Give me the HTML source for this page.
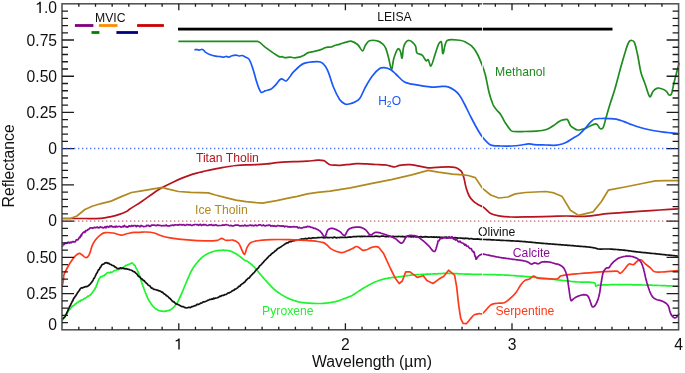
<!DOCTYPE html>
<html><head><meta charset="utf-8"><style>
html,body{margin:0;padding:0;background:#fff;}
body{width:685px;height:373px;overflow:hidden;font-family:"Liberation Sans",sans-serif;}
svg{display:block;will-change:transform;}
</style></head><body>
<svg width="685" height="373" viewBox="0 0 685 373">

<path d="M62.5,218.5C68.5,218.5 74.4,218.5 80.4,218.5C87.2,218.5 94.1,218.7 100.9,218.3C104.3,218.1 107.7,217.3 111.1,216.6C113.9,216.0 116.6,215.3 119.3,214.4C122.1,213.4 124.8,212.2 127.4,210.9C128.2,210.5 128.8,209.8 129.5,209.3C133.5,206.6 137.7,204.2 141.7,201.5C145.2,199.2 148.5,196.6 152.0,194.2C155.4,191.9 158.7,189.6 162.2,187.6C165.5,185.7 169.0,184.0 172.4,182.4C175.8,180.8 179.2,179.3 182.6,177.9C186.0,176.5 189.4,175.2 192.8,174.1C195.2,173.3 197.6,172.9 200.0,172.3C201.7,171.9 203.5,171.4 205.2,171.0C208.6,170.2 212.0,169.5 215.4,168.8C218.8,168.1 222.3,167.6 225.7,167.0C229.1,166.5 232.5,165.9 235.9,165.5C239.3,165.2 242.7,165.0 246.1,164.9C249.5,164.8 252.9,164.9 256.3,164.7C259.7,164.5 263.1,164.2 266.5,163.9C269.9,163.6 273.3,163.0 276.7,162.7C280.1,162.4 283.6,162.1 287.0,161.9C290.4,161.7 293.8,161.7 297.2,161.6C300.6,161.5 304.0,161.4 307.4,161.2C310.8,161.0 314.2,160.3 317.6,160.2C319.7,160.1 321.9,160.1 323.8,160.6C324.9,160.9 325.8,162.0 326.8,162.7C327.8,163.4 328.8,164.4 329.9,164.7C331.5,165.2 333.3,165.1 335.0,165.2C336.7,165.3 338.5,165.4 340.2,165.3C342.2,165.2 344.3,164.9 346.3,164.7C349.7,164.4 353.2,163.8 356.6,163.7C360.0,163.6 363.4,163.8 366.8,163.9C370.2,164.0 373.6,164.3 377.0,164.5C379.7,164.6 382.5,164.6 385.2,164.9C387.3,165.2 389.3,165.8 391.3,166.3C392.3,166.5 393.4,167.1 394.4,167.0C396.1,166.8 397.7,165.6 399.5,165.3C402.8,164.8 406.3,164.6 409.7,164.7C412.4,164.8 415.2,165.4 417.9,165.9C421.3,166.5 424.7,167.5 428.1,167.8C430.8,168.0 433.6,167.5 436.3,167.4C440.4,167.2 444.4,166.8 448.5,166.8C450.6,166.8 452.7,166.9 454.7,167.4C456.1,167.7 457.6,168.4 458.8,169.2C459.9,169.9 461.1,170.8 461.8,172.0C462.9,174.0 463.5,176.4 464.1,178.6C464.9,181.6 465.2,184.8 466.1,187.8C466.9,190.6 467.8,193.5 469.2,196.0C470.2,197.9 471.7,199.6 473.3,201.1C474.8,202.5 476.6,203.7 478.4,204.8C480.0,205.8 482.0,206.1 483.5,207.2C486.1,209.0 488.0,211.9 490.7,213.4C493.1,214.7 496.0,215.3 498.8,215.8C502.8,216.5 507.0,216.9 511.1,217.0C517.9,217.2 524.7,216.9 531.5,216.8C538.3,216.7 545.2,216.6 552.0,216.4C556.8,216.3 561.5,216.0 566.3,216.0C570.4,216.0 574.4,216.4 578.5,216.4C582.6,216.4 586.7,216.2 590.8,215.8C596.3,215.3 601.9,214.3 607.4,213.7C613.2,213.1 619.1,212.7 624.9,212.3C630.7,211.9 636.5,211.5 642.3,211.1C648.1,210.7 653.9,210.4 659.7,210.0C666.0,209.6 672.2,209.2 678.5,208.8" fill="none" stroke="#b5141e" stroke-width="1.7" stroke-linejoin="round" stroke-linecap="round"/>
<path d="M62.5,218.5 L71.0,218.3 L76.9,216.0 L84.9,209.5 L92.2,206.3 L100.2,203.8 L111.1,201.1 L121.3,196.6 L131.5,192.5 L141.7,190.9 L152.0,189.2 L162.3,187.4 L166.3,188.6 L178.5,191.5 L190.8,192.3 L200.0,192.6 L208.3,192.9 L215.4,195.0 L225.7,197.6 L235.9,200.1 L246.1,201.7 L256.3,202.7 L262.4,203.1 L276.7,200.7 L287.0,198.4 L297.2,196.4 L307.4,193.9 L317.6,192.3 L330.0,191.1 L350.4,187.8 L370.9,183.7 L391.3,179.6 L411.7,174.9 L428.1,170.4 L438.3,172.1 L452.6,174.1 L462.8,174.9 L468.2,175.5 L475.3,177.6 L479.4,183.7 L482.5,188.4 L490.7,195.0 L498.8,198.0 L508.0,197.0 L515.2,193.9 L525.4,192.5 L545.8,191.5 L554.0,192.9 L562.2,196.6 L570.4,210.3 L578.5,215.4 L590.0,212.6 L593.1,211.9 L601.3,201.8 L608.3,190.2 L624.9,187.0 L642.3,183.5 L655.4,180.9 L666.7,180.6 L678.5,180.6" fill="none" stroke="#b08a20" stroke-width="1.7" stroke-linejoin="round" stroke-linecap="round"/>
<path d="M179.0,41.3L257.6,41.3C260.3,41.5 261.9,44.7 264.1,46.3C266.7,48.3 269.4,50.2 272.1,52.1C273.8,53.3 275.5,54.4 277.2,55.5C278.1,56.0 279.0,56.7 280.0,56.9C280.6,57.1 281.4,56.6 282.0,56.7C283.1,56.9 284.0,57.6 285.1,57.7C286.8,57.8 288.5,57.2 290.2,57.2C291.7,57.2 293.3,57.8 294.8,57.8C296.7,57.7 298.6,57.4 300.4,56.9C301.5,56.6 302.5,56.1 303.5,55.6C304.6,55.0 305.5,54.0 306.6,53.4C307.5,52.9 308.6,52.6 309.6,52.3C310.9,51.9 312.3,51.8 313.7,51.5C315.4,51.1 317.1,50.8 318.8,50.3C319.8,50.0 320.9,49.7 321.9,49.3C323.0,48.9 323.9,48.2 325.0,47.8C326.0,47.5 327.0,47.3 328.0,47.2C329.0,47.1 330.1,47.2 331.1,47.0C331.8,46.9 332.4,46.5 333.1,46.2C334.1,45.8 335.1,45.3 336.2,45.0C337.2,44.7 338.3,44.7 339.3,44.4C340.3,44.1 341.3,43.5 342.3,43.2C343.6,42.8 345.0,42.4 346.4,42.1C347.9,41.8 349.5,40.9 351.0,41.2C353.3,41.7 355.7,43.0 357.6,44.5C359.6,46.2 361.1,50.7 362.6,50.8C363.8,50.9 364.3,46.8 365.5,45.1C366.6,43.5 367.7,41.4 369.4,40.8C371.7,40.0 374.8,40.2 377.3,40.8C379.2,41.2 381.1,42.5 382.6,43.8C384.0,45.0 385.1,46.7 385.8,48.4C387.0,51.3 387.7,54.5 388.5,57.6C389.6,61.5 390.6,69.2 391.5,69.4C392.3,69.6 392.8,62.4 393.7,58.9C394.2,56.9 394.9,54.9 395.7,53.0C396.3,51.5 397.2,49.1 398.1,48.7C398.7,48.4 399.9,50.0 400.3,51.0C401.2,53.2 401.6,58.8 402.0,58.3C402.7,57.5 402.7,50.7 403.6,47.1C404.1,45.2 405.0,43.2 406.2,41.8C406.9,41.0 408.5,40.3 409.5,40.5C410.9,40.7 412.3,42.0 413.4,43.1C414.4,44.0 415.2,45.2 415.7,46.5C416.4,48.5 415.8,51.4 417.0,53.0C418.0,54.3 420.8,54.0 422.2,55.2C423.9,56.7 424.7,59.8 426.2,60.9C426.7,61.3 427.7,59.2 428.1,59.6C429.3,60.9 430.0,66.6 430.8,66.1C432.2,65.3 433.5,59.1 434.7,55.6C436.1,51.7 437.0,47.4 438.7,43.8C439.2,42.8 441.0,41.1 441.3,41.8C442.4,44.4 442.1,53.9 443.0,53.7C444.1,53.5 444.2,42.7 447.2,40.5C450.2,38.3 456.5,40.2 461.0,40.5C462.4,40.6 463.7,41.2 464.9,41.8C467.2,43.0 469.7,44.1 471.5,45.8C473.6,47.8 475.4,50.4 476.8,53.0C478.9,56.7 480.4,60.8 482.0,64.8C483.3,68.0 484.4,71.3 485.3,74.7C486.8,80.5 487.5,86.4 489.0,92.2C490.1,96.5 491.5,100.9 493.2,105.0C494.0,106.8 495.3,108.3 496.5,109.8C497.8,111.5 499.6,112.9 500.8,114.7C502.4,117.0 503.3,119.7 504.8,122.1C506.7,125.0 508.6,128.0 510.9,130.5C511.5,131.1 512.4,131.4 513.3,131.5C516.8,131.8 520.5,131.6 524.1,131.5C528.1,131.4 532.2,131.3 536.2,131.1C538.2,131.0 540.2,130.9 542.2,130.5C544.3,130.1 546.4,129.6 548.3,128.7C550.4,127.8 552.4,126.4 554.3,125.1C556.0,124.0 557.4,122.5 559.1,121.5C560.2,120.8 561.5,120.2 562.8,119.9C564.1,119.5 565.8,119.1 567.0,119.4C567.7,119.6 568.1,120.8 568.5,121.5C569.3,122.9 569.6,124.5 570.5,125.7C571.3,126.7 572.6,127.4 573.7,128.1C574.7,128.8 575.8,129.6 576.9,129.9C578.2,130.2 579.6,129.9 580.9,129.7C582.5,129.4 584.2,128.9 585.7,128.3C587.4,127.6 588.9,126.5 590.6,125.7C592.2,125.0 593.8,124.1 595.4,123.8C596.0,123.7 596.8,124.1 597.3,124.6C598.2,125.5 598.5,126.9 599.4,127.8C599.9,128.3 600.9,129.0 601.5,128.9C602.2,128.8 603.1,127.8 603.4,127.0C604.5,124.2 605.1,121.1 605.9,118.2C607.2,113.6 608.5,109.0 609.9,104.5C611.4,99.6 613.2,94.9 614.6,90.0C616.7,82.8 618.5,75.5 620.5,68.3C622.1,62.7 623.6,57.0 625.4,51.4C626.4,48.1 627.3,44.5 629.0,41.7C629.5,40.9 631.0,40.4 631.9,40.5C632.8,40.6 633.9,41.3 634.3,42.2C635.8,45.8 636.5,49.9 637.4,53.8C638.8,60.2 639.5,66.8 641.1,73.1C641.9,76.4 643.6,79.5 644.7,82.8C646.0,86.4 646.9,90.2 648.3,93.7C648.7,94.8 649.6,97.1 650.2,96.8C651.2,96.3 651.8,92.8 653.1,91.3C654.2,89.9 655.9,88.6 657.5,88.1C658.7,87.7 660.3,88.3 661.6,88.8C663.3,89.4 665.1,90.2 666.4,91.3C667.5,92.2 667.8,94.2 668.8,94.9C669.4,95.3 671.0,95.1 671.3,94.4C672.6,91.5 672.8,87.5 673.7,84.0C675.4,77.2 677.2,70.3 679.0,63.5" fill="none" stroke="#1f8c1f" stroke-width="1.7" stroke-linejoin="round" stroke-linecap="round"/>
<path d="M195.1,49.7C196.0,49.7 196.9,49.6 197.7,49.7C198.2,49.8 198.7,50.2 199.2,50.2C199.9,50.2 200.5,49.5 201.2,49.5C201.9,49.4 202.7,49.5 203.3,49.9C204.1,50.4 204.5,51.5 205.3,52.1C206.9,53.2 208.6,54.1 210.4,54.8C212.0,55.4 213.8,55.8 215.5,56.1C217.2,56.4 219.0,56.5 220.7,56.7C221.7,56.8 222.7,57.3 223.7,57.2C224.6,57.1 225.4,56.3 226.3,56.3C227.1,56.3 228.0,57.3 228.8,57.2C229.8,57.1 230.8,56.1 231.9,55.8C233.2,55.4 234.6,55.1 236.0,55.1C237.0,55.1 238.0,55.9 239.0,56.0C240.0,56.1 241.1,55.4 242.1,55.5C243.2,55.7 244.2,56.4 245.2,56.9C246.5,57.6 248.3,57.9 249.0,59.1C250.9,62.0 251.9,65.8 253.0,69.2C254.6,73.8 255.5,78.7 257.1,83.3C258.2,86.4 259.2,90.5 261.1,92.3C261.9,93.1 263.8,91.4 265.1,90.9C267.1,90.2 269.4,89.9 271.2,88.9C272.7,88.0 273.9,86.6 275.2,85.3C277.3,83.2 278.9,79.8 281.2,78.9C282.6,78.3 284.9,81.6 286.2,80.9C288.9,79.4 290.7,74.8 293.3,72.2C296.4,69.1 299.5,65.3 303.4,63.6C307.5,61.8 312.8,61.7 317.4,61.6C319.1,61.6 321.2,62.1 322.5,63.2C324.6,65.0 326.3,67.6 327.5,70.2C330.0,75.6 331.2,81.7 333.5,87.3C335.2,91.5 337.1,95.7 339.6,99.4C340.9,101.3 343.0,103.0 345.0,104.0C346.1,104.6 347.7,104.3 349.0,104.0C351.0,103.6 353.1,103.0 354.9,102.0C356.7,101.0 358.7,99.9 359.9,98.2C362.0,95.3 363.0,91.5 364.8,88.3C367.1,84.1 369.4,79.7 372.3,75.9C374.4,73.1 376.9,70.4 379.7,68.5C380.9,67.7 382.7,67.5 384.2,67.6C386.3,67.8 388.6,68.4 390.4,69.4C392.4,70.5 394.0,72.4 395.7,74.0C398.7,76.7 401.2,80.1 404.5,82.1C406.6,83.4 409.5,83.6 412.0,84.1C418.6,85.3 425.2,86.5 431.8,87.1C434.5,87.3 437.3,86.7 440.0,86.6C442.4,86.5 444.9,86.0 447.2,86.6C449.8,87.2 452.3,88.7 454.5,90.2C456.3,91.5 458.0,93.2 459.3,95.0C461.2,97.6 462.7,100.6 464.2,103.5C466.7,108.3 468.9,113.2 471.4,118.0C473.7,122.5 476.1,127.0 478.6,131.3C479.9,133.6 481.4,135.8 483.0,137.8C484.6,139.8 486.4,141.7 488.3,143.3C489.3,144.2 490.6,145.0 491.9,145.3C494.6,145.9 497.6,145.9 500.4,146.0C504.3,146.1 508.2,146.2 512.1,146.0C515.3,145.8 518.5,145.4 521.7,145.0C523.9,144.7 526.2,143.9 528.4,143.8C530.2,143.7 532.0,144.5 533.8,144.6C537.8,144.9 541.9,144.9 545.9,145.0C549.5,145.1 553.1,145.5 556.7,145.2C558.8,145.1 560.8,144.4 562.8,143.8C564.0,143.4 565.3,142.9 566.4,142.3C568.6,141.1 570.7,139.6 572.9,138.3C575.0,137.0 577.4,135.9 579.3,134.3C581.6,132.4 583.6,130.0 585.7,127.8C587.4,126.0 588.8,123.9 590.6,122.2C591.8,121.0 593.1,119.5 594.6,119.0C596.8,118.3 599.4,118.6 601.8,118.5C604.5,118.4 607.2,118.5 609.9,118.6C612.0,118.7 614.2,118.8 616.3,119.2C618.7,119.7 621.1,120.6 623.4,121.4C625.7,122.2 627.9,123.2 630.1,124.1C632.3,124.9 634.5,125.8 636.8,126.5C639.4,127.3 642.1,128.1 644.8,128.8C647.5,129.5 650.2,130.0 652.9,130.5C656.5,131.1 660.0,131.6 663.6,132.1C665.8,132.4 668.1,132.6 670.3,132.8C673.1,133.1 675.8,133.3 678.6,133.5" fill="none" stroke="#1a58fa" stroke-width="1.7" stroke-linejoin="round" stroke-linecap="round"/>
<path d="M62.5,320.0 L63.0,319.2 L63.6,318.4 L64.1,317.6 L64.6,316.6 L65.2,315.8 L65.7,314.3 L66.3,313.9 L66.8,313.5 L67.3,312.5 L67.9,311.9 L68.4,310.6 L69.0,310.1 L69.6,309.2 L70.3,308.7 L70.9,307.9 L71.6,306.8 L72.4,306.2 L73.1,305.6 L73.9,305.4 L74.6,304.8 L75.4,303.8 L76.1,303.8 L76.9,302.7 L77.7,302.7 L78.4,301.8 L79.2,301.2 L80.1,301.4 L80.9,300.3 L81.8,299.8 L82.6,299.9 L83.5,299.3 L84.4,298.3 L85.3,298.4 L86.2,297.5 L87.0,297.1 L87.9,296.2 L88.7,296.2 L89.4,295.5 L90.2,295.1 L90.9,294.5 L91.6,293.4 L92.2,292.8 L92.8,291.9 L93.4,291.1 L94.0,290.2 L94.5,289.5 L95.0,288.9 L95.5,287.6 L96.0,287.1 L96.4,285.8 L96.8,284.6 L97.2,284.1 L97.5,282.9 L97.8,281.8 L98.2,280.9 L98.6,280.2 L99.0,278.7 L99.6,278.5 L100.4,276.8 L101.2,276.7 L102.3,276.5 L103.4,275.6 L104.3,275.6 L105.1,274.6 L106.0,274.0 L106.9,273.0 L107.7,272.7 L108.6,272.5 L109.5,273.0 L110.4,272.1 L111.3,272.3 L112.2,272.1 L113.0,271.7 L113.9,270.9 L114.7,270.5 L115.6,270.3 L116.5,270.2 L117.4,269.5 L118.2,269.7 L119.1,269.5 L120.0,269.3 L120.9,268.3 L121.8,268.6 L122.7,267.5 L123.5,267.2 L124.2,266.8 L124.9,266.4 L125.7,265.4 L126.7,265.4 L127.7,264.8 L128.8,264.3 L129.7,264.0 L130.6,263.5 L131.5,263.1 L132.3,263.0 L133.2,263.9 L134.0,265.0 L134.6,265.2 L135.2,265.9 L135.7,267.6 L136.2,268.1 L136.7,268.9 L137.1,269.6 L137.5,270.8 L137.9,271.8 L138.3,272.4 L138.6,273.3 L139.0,273.9 L139.3,275.4 L139.6,275.6 L139.9,276.8 L140.2,277.7 L140.5,278.6 L140.7,279.5 L141.0,280.4 L141.3,281.3 L141.6,282.1 L141.9,283.0 L142.2,283.9 L142.5,284.7 L142.8,285.6 L143.2,286.5 L143.5,287.3 L143.8,288.2 L144.1,289.1 L144.4,289.9 L144.7,290.8 L145.0,291.6 L145.4,292.5 L145.7,293.4 L146.1,294.2 L146.4,295.1 L146.8,295.9 L147.1,296.7 L147.5,297.6 L147.9,298.4 L148.3,299.3 L148.8,300.1 L149.3,301.0 L149.8,301.8 L150.3,302.6 L150.8,303.5 L151.4,304.3 L152.0,305.0 L152.6,305.8 L153.2,306.5 L153.9,307.2 L154.6,307.8 L155.3,308.5 L156.1,309.0 L156.9,309.6 L157.7,310.0 L158.6,310.4 L159.5,310.7 L160.3,310.9 L161.3,311.1 L162.2,311.2 L163.2,311.3 L164.1,311.3 L165.0,311.2 L166.0,311.1 L166.9,310.9 L167.9,310.7 L168.9,310.4 L169.8,310.0 L170.7,309.6 L171.5,309.1 L172.3,308.5 L173.0,307.9 L173.7,307.2 L174.4,306.5 L175.0,305.7 L175.7,304.9 L176.2,304.1 L176.8,303.3 L177.3,302.5 L177.8,301.7 L178.3,300.8 L178.7,300.0 L179.1,299.1 L179.5,298.2 L179.9,297.3 L180.3,296.5 L180.7,295.6 L181.1,294.7 L181.5,293.8 L181.9,293.0 L182.2,292.1 L182.6,291.3 L182.9,290.4 L183.3,289.6 L183.6,288.7 L184.0,287.8 L184.3,287.0 L184.7,286.1 L185.0,285.2 L185.4,284.4 L185.8,283.5 L186.1,282.7 L186.5,281.8 L186.9,280.9 L187.2,280.1 L187.6,279.2 L188.0,278.4 L188.3,277.5 L188.7,276.7 L189.1,275.8 L189.4,275.0 L189.8,274.1 L190.2,273.3 L190.6,272.5 L191.0,271.6 L191.5,270.8 L191.9,270.0 L192.4,269.2 L192.8,268.4 L193.3,267.6 L193.8,266.9 L194.4,266.1 L194.9,265.4 L195.5,264.6 L196.0,263.9 L196.6,263.2 L197.2,262.5 L197.8,261.8 L198.4,261.1 L199.0,260.4 L199.6,259.7 L200.3,259.1 L200.9,258.4 L201.6,257.8 L202.3,257.2 L203.0,256.6 L203.7,256.1 L204.5,255.6 L205.3,255.0 L206.1,254.6 L207.0,254.1 L207.8,253.6 L208.7,253.2 L209.6,252.8 L210.5,252.5 L211.4,252.1 L212.3,251.8 L213.2,251.5 L214.1,251.3 L215.1,251.0 L216.0,250.8 L217.0,250.7 L217.9,250.6 L218.9,250.4 L219.8,250.4 L220.8,250.3 L221.8,250.3 L222.7,250.2 L223.7,250.2 L224.7,250.3 L225.6,250.3 L226.6,250.4 L227.5,250.5 L228.5,250.7 L229.4,250.9 L230.3,251.1 L231.2,251.4 L232.1,251.8 L233.0,252.2 L233.9,252.6 L234.7,253.1 L235.6,253.5 L236.4,254.0 L237.2,254.5 L237.9,255.0 L238.6,255.5 L239.4,256.1 L240.1,256.6 L240.8,257.2 L241.5,257.8 L242.2,258.3 L242.9,258.9 L243.7,259.7 L244.6,260.4 L245.9,260.7 L247.1,261.1 L247.9,261.6 L248.6,262.2 L249.4,262.7 L250.1,263.3 L250.8,263.9 L251.5,264.5 L252.2,265.1 L252.9,265.8 L253.6,266.4 L254.3,267.1 L255.0,267.8 L255.6,268.6 L256.2,269.3 L256.9,270.1 L257.5,270.9 L258.1,271.6 L258.7,272.4 L259.4,273.2 L260.0,273.9 L260.6,274.6 L261.2,275.3 L261.8,276.0 L262.4,276.7 L263.0,277.4 L263.6,278.1 L264.2,278.8 L264.9,279.5 L265.5,280.2 L266.1,280.9 L266.7,281.6 L267.3,282.3 L268.0,282.9 L268.6,283.6 L269.2,284.3 L269.9,284.9 L270.5,285.6 L271.1,286.2 L271.7,286.9 L272.4,287.5 L273.0,288.1 L273.7,288.8 L274.3,289.4 L275.0,290.0 L275.7,290.6 L276.4,291.2 L277.1,291.7 L277.9,292.3 L278.7,292.8 L279.5,293.4 L280.3,293.9 L281.1,294.4 L281.9,294.9 L282.8,295.4 L283.6,295.9 L284.4,296.4 L285.3,296.8 L286.2,297.3 L287.0,297.7 L287.9,298.1 L288.8,298.5 L289.6,298.9 L290.5,299.2 L291.4,299.6 L292.3,299.9 L293.2,300.2 L294.0,300.5 L295.0,300.8 L295.9,301.1 L296.8,301.4 L297.7,301.6 L298.6,301.8 L299.5,302.0 L300.4,302.2 L301.3,302.3 L302.2,302.5 L303.1,302.6 L304.0,302.7 L305.0,302.8 L305.9,302.9 L306.8,303.0 L307.7,303.1 L308.6,303.1 L309.6,303.2 L310.5,303.2 L311.4,303.3 L312.3,303.4 L313.2,303.4 L314.2,303.4 L315.1,303.5 L316.0,303.5 L316.9,303.5 L317.9,303.5 L318.8,303.5 L319.7,303.5 L320.6,303.5 L321.5,303.5 L322.5,303.4 L323.4,303.4 L324.3,303.3 L325.2,303.2 L326.1,303.1 L327.1,303.0 L328.0,302.9 L328.9,302.8 L329.8,302.6 L330.8,302.5 L331.7,302.3 L332.6,302.1 L333.5,302.0 L334.4,301.8 L335.3,301.6 L336.2,301.3 L337.1,301.1 L338.0,300.9 L338.9,300.6 L339.7,300.3 L340.6,300.0 L341.4,299.7 L342.3,299.4 L343.2,299.1 L344.0,298.7 L344.9,298.4 L345.7,298.1 L346.6,297.7 L347.4,297.4 L348.3,297.1 L349.1,296.7 L350.0,296.4 L351.1,296.0 L352.1,295.5 L352.9,295.0 L353.7,294.5 L354.5,294.0 L355.3,293.5 L356.1,292.9 L356.9,292.4 L357.7,291.9 L358.5,291.4 L359.3,290.8 L360.1,290.3 L360.9,289.8 L361.7,289.3 L362.5,288.8 L363.3,288.3 L364.1,287.8 L364.9,287.3 L365.7,286.9 L366.5,286.4 L367.3,286.0 L368.0,285.5 L368.8,285.1 L369.6,284.6 L370.5,284.2 L371.3,283.8 L372.1,283.4 L372.9,283.0 L373.7,282.6 L374.5,282.2 L375.4,281.8 L376.2,281.5 L377.1,281.2 L378.0,280.8 L378.9,280.5 L379.8,280.2 L380.8,279.9 L381.7,279.7 L382.6,279.4 L383.6,279.2 L384.5,278.9 L385.5,278.7 L386.4,278.5 L387.4,278.3 L388.3,278.1 L389.2,277.9 L390.1,277.8 L391.1,277.7 L392.0,277.5 L392.9,277.4 L393.9,277.3 L394.8,277.3 L395.7,277.2 L396.7,277.1 L397.6,277.0 L398.5,276.9 L399.5,276.8 L400.4,276.7 L401.3,276.6 L402.2,276.4 L403.2,276.3 L404.1,276.2 L405.0,276.0 L405.9,275.9 L406.9,275.7 L407.8,275.6 L408.7,275.5 L409.6,275.3 L410.5,275.2 L411.5,275.1 L412.4,275.0 L413.3,274.9 L414.3,274.8 L415.2,274.8 L416.1,274.7 L417.0,274.6 L418.0,274.6 L418.9,274.6 L419.8,274.5 L420.8,274.5 L421.7,274.4 L422.6,274.4 L423.6,274.3 L424.5,274.3 L425.4,274.3 L426.4,274.2 L427.3,274.2 L428.2,274.1 L429.2,274.1 L430.1,274.1 L431.0,274.0 L431.9,274.0 L432.9,273.9 L433.8,273.9 L434.7,273.9 L435.7,273.8 L436.6,273.8 L437.5,273.8 L438.4,273.7 L439.4,273.7 L440.3,273.6 L441.2,273.6 L442.1,273.5 L443.1,273.4 L444.0,273.4 L444.9,273.4 L445.8,273.3 L446.8,273.3 L447.7,273.3 L448.6,273.3 L449.5,273.3 L450.4,273.3 L451.4,273.4 L452.3,273.4 L453.2,273.4 L454.1,273.5 L455.0,273.5 L455.9,273.6 L456.8,273.7 L457.8,273.7 L458.7,273.8 L459.6,273.8 L460.5,273.9 L461.4,273.9 L462.3,274.0 L463.3,274.0 L464.2,274.1 L465.1,274.1 L466.0,274.1 L466.9,274.2 L467.8,274.2 L468.8,274.2 L469.7,274.2 L470.6,274.2 L471.5,274.3 L472.4,274.3 L473.3,274.3 L474.2,274.3 L475.1,274.3 L476.1,274.3 L477.0,274.3 L477.9,274.4 L478.8,274.4 L479.7,274.4 L480.6,274.4 L481.5,274.4 L482.5,274.4 L483.4,274.5 L484.3,274.5 L485.2,274.5 L486.1,274.5 L487.0,274.5 L487.9,274.6 L488.9,274.6 L489.8,274.6 L490.7,274.6 L491.6,274.6 L492.5,274.7 L493.4,274.7 L494.3,274.7 L495.3,274.7 L496.2,274.8 L497.1,274.8 L498.0,274.8 L498.9,274.8 L499.8,274.9 L500.7,274.9 L501.6,274.9 L502.6,275.0 L503.5,275.0 L504.4,275.1 L505.3,275.1 L506.2,275.1 L507.1,275.2 L508.0,275.2 L509.0,275.3 L509.9,275.4 L510.8,275.4 L511.7,275.5 L512.6,275.5 L513.5,275.6 L514.4,275.6 L515.4,275.7 L516.3,275.8 L517.2,275.8 L518.1,275.9 L519.0,276.0 L519.9,276.1 L520.8,276.1 L521.7,276.2 L522.7,276.3 L523.6,276.3 L524.5,276.4 L525.4,276.5 L526.3,276.6 L527.2,276.7 L528.1,276.7 L529.1,276.8 L530.0,276.9 L530.9,277.0 L531.8,277.1 L532.7,277.2 L533.6,277.3 L534.5,277.4 L535.5,277.4 L536.4,277.5 L537.3,277.6 L538.2,277.7 L539.1,277.8 L540.0,277.9 L540.9,278.0 L541.8,278.1 L542.8,278.2 L543.7,278.3 L544.6,278.4 L545.5,278.5 L546.4,278.6 L547.4,278.7 L548.3,278.8 L549.2,278.9 L550.1,279.0 L551.1,279.1 L552.0,279.2 L552.9,279.3 L553.9,279.4 L554.8,279.5 L555.7,279.6 L556.6,279.8 L557.6,279.9 L558.5,280.0 L559.4,280.1 L560.4,280.2 L561.3,280.3 L562.2,280.4 L563.1,280.5 L564.1,280.6 L565.0,280.7 L566.0,280.8 L566.9,280.9 L567.9,281.0 L568.8,281.1 L569.8,281.2 L570.7,281.4 L571.7,281.5 L572.7,281.6 L573.6,281.7 L574.6,281.7 L575.5,281.8 L576.5,281.9 L577.4,282.0 L578.3,282.0 L579.3,282.0 L580.2,282.1 L581.1,282.1 L582.1,282.1 L583.0,282.1 L584.0,282.1 L584.9,282.1 L585.8,282.1 L586.8,282.1 L587.7,282.2 L588.6,282.2 L589.5,282.2 L590.4,282.3 L591.3,282.4 L592.2,282.5 L593.0,282.6 L593.9,282.7 L594.7,282.9 L595.3,283.8 L595.5,285.2 L595.8,286.2 L596.8,285.8 L598.0,285.1 L598.9,285.1 L599.8,285.0 L600.7,285.0 L601.6,284.9 L602.5,284.9 L603.4,284.9 L604.3,284.9 L605.2,284.8 L606.1,284.8 L607.0,284.8 L607.9,284.8 L608.8,284.8 L609.7,284.7 L610.6,284.7 L611.5,284.7 L612.4,284.7 L613.3,284.7 L614.2,284.7 L615.1,284.7 L616.0,284.7 L616.9,284.7 L617.8,284.7 L618.7,284.7 L619.6,284.7 L620.5,284.7 L621.4,284.7 L622.3,284.7 L623.2,284.7 L624.1,284.7 L625.0,284.7 L625.9,284.7 L626.9,284.7 L627.8,284.7 L628.7,284.7 L629.6,284.7 L630.6,284.7 L631.5,284.7 L632.4,284.8 L633.3,284.8 L634.3,284.8 L635.2,284.8 L636.1,284.8 L637.0,284.8 L638.0,284.9 L638.9,284.9 L639.8,284.9 L640.7,284.9 L641.7,284.9 L642.6,285.0 L643.5,285.0 L644.4,285.0 L645.4,285.0 L646.3,285.1 L647.2,285.1 L648.1,285.1 L649.0,285.2 L650.0,285.2 L650.9,285.2 L651.8,285.2 L652.7,285.3 L653.6,285.3 L654.6,285.3 L655.5,285.4 L656.4,285.4 L657.3,285.4 L658.2,285.5 L659.2,285.5 L660.1,285.5 L661.0,285.6 L661.9,285.6 L662.9,285.6 L663.8,285.7 L664.7,285.7 L665.6,285.7 L666.5,285.8 L667.5,285.8 L668.4,285.8 L669.3,285.9 L670.2,285.9 L671.1,285.9 L672.1,286.0 L673.0,286.0 L673.9,286.0 L674.8,286.1 L675.7,286.1 L676.7,286.1 L677.6,286.2 L678.5,286.2" fill="none" stroke="#1ef42e" stroke-width="1.7" stroke-linejoin="round" stroke-linecap="round"/>
<path d="M62.5,318.8 L63.2,318.4 L64.0,317.7 L64.6,317.2 L65.2,316.5 L65.7,315.2 L66.1,314.4 L66.5,314.1 L66.8,312.8 L67.2,311.9 L67.6,311.6 L67.9,310.3 L68.3,309.7 L68.7,308.6 L69.1,307.8 L69.5,306.6 L70.0,306.1 L70.4,305.4 L70.8,304.2 L71.3,303.5 L71.7,302.6 L72.2,301.3 L72.6,301.0 L73.1,300.0 L73.5,298.9 L74.0,297.9 L74.5,297.8 L74.9,296.7 L75.4,296.1 L75.9,295.5 L76.4,294.6 L76.9,294.0 L77.4,292.8 L77.9,292.4 L78.5,291.3 L79.0,290.9 L79.6,290.1 L80.2,288.8 L80.9,288.2 L81.7,287.8 L82.5,288.0 L83.5,287.3 L84.4,287.2 L85.3,286.6 L86.6,286.6 L87.9,286.1 L88.6,285.5 L89.3,285.0 L89.9,284.3 L90.5,283.8 L91.1,282.9 L91.7,282.3 L92.2,281.4 L92.8,280.7 L93.3,279.6 L93.8,278.3 L94.3,278.1 L94.7,277.4 L95.1,276.5 L95.5,275.5 L96.0,274.8 L96.4,273.6 L96.9,273.2 L97.4,272.1 L97.9,271.0 L98.4,269.9 L99.0,269.7 L99.5,269.0 L100.1,267.4 L100.7,267.1 L101.2,266.0 L101.8,265.0 L102.5,264.4 L103.3,264.2 L104.2,263.7 L105.1,262.7 L106.0,263.0 L106.9,262.6 L107.8,263.3 L108.7,263.2 L109.6,264.0 L110.5,264.5 L111.3,264.6 L112.2,265.5 L113.1,265.5 L113.9,265.9 L114.8,266.9 L115.6,267.1 L116.5,267.9 L117.4,268.5 L118.5,268.7 L119.6,268.2 L120.7,267.8 L121.8,268.4 L123.0,268.0 L124.1,268.7 L125.3,268.9 L126.5,268.7 L127.6,269.1 L128.8,269.4 L129.7,269.8 L130.6,270.0 L131.5,270.3 L132.3,270.7 L133.2,271.5 L134.1,271.7 L135.0,272.3 L135.8,273.2 L136.5,273.5 L137.2,274.4 L137.9,275.7 L138.6,276.2 L139.3,276.9 L140.0,277.1 L140.7,278.1 L141.4,278.8 L142.1,278.9 L142.9,280.0 L143.6,280.6 L144.3,280.7 L145.0,281.8 L145.7,282.4 L146.4,283.3 L147.2,283.8 L147.9,284.8 L148.6,285.4 L149.4,285.5 L150.1,286.2 L150.8,287.4 L151.6,288.2 L152.4,288.2 L153.2,288.9 L154.1,289.4 L155.0,289.5 L156.0,289.8 L157.0,290.1 L158.0,290.4 L158.9,290.8 L159.9,290.9 L160.8,291.4 L161.7,292.2 L162.5,292.1 L163.3,293.1 L164.1,293.9 L164.9,294.2 L165.7,294.7 L166.4,295.8 L167.2,296.0 L167.9,296.5 L168.6,297.3 L169.2,298.1 L169.9,298.3 L170.6,299.1 L171.2,299.7 L171.9,300.7 L172.6,301.0 L173.3,301.9 L174.0,301.9 L174.7,302.6 L175.4,303.3 L176.2,304.0 L177.0,304.1 L177.8,304.4 L178.6,304.7 L179.4,305.4 L180.3,305.5 L181.1,306.3 L182.0,306.7 L182.9,306.5 L183.8,306.9 L184.8,307.6 L185.7,307.7 L186.7,308.0 L187.6,307.7 L188.5,307.4 L189.4,307.4 L190.4,307.6 L191.3,306.9 L192.2,306.6 L193.1,306.4 L194.0,306.0 L194.8,305.7 L195.7,305.7 L196.5,304.7 L197.3,304.2 L198.2,304.6 L199.0,304.1 L199.8,303.8 L200.7,303.0 L201.5,303.1 L202.3,302.7 L203.2,301.8 L204.1,301.9 L204.9,301.7 L205.8,301.3 L206.6,300.9 L207.5,300.4 L208.4,300.1 L209.2,299.8 L210.1,299.4 L211.0,299.5 L211.9,298.9 L212.8,299.1 L213.7,298.2 L214.6,298.6 L215.5,298.1 L216.4,298.0 L217.3,297.7 L218.1,297.4 L219.0,296.9 L219.9,296.1 L220.8,296.4 L221.7,295.6 L222.6,295.4 L223.4,295.4 L224.3,294.9 L225.2,294.5 L226.0,294.5 L226.9,293.9 L227.7,293.3 L228.6,292.8 L229.4,292.9 L230.2,292.2 L231.0,292.0 L231.8,291.2 L232.6,290.6 L233.3,290.4 L234.1,290.1 L234.9,289.1 L235.6,289.1 L236.4,288.7 L237.1,288.1 L237.9,287.6 L238.6,286.4 L239.3,286.4 L240.1,286.0 L240.8,284.8 L241.5,284.4 L242.2,283.8 L243.0,283.4 L243.7,282.7 L244.4,282.2 L245.1,281.8 L245.7,280.6 L246.4,280.0 L247.1,279.4 L247.8,278.7 L248.5,278.0 L249.2,278.1 L249.8,277.3 L250.5,276.0 L251.1,275.6 L251.8,274.8 L252.5,274.1 L253.1,273.4 L253.8,272.9 L254.4,272.2 L255.1,271.3 L255.7,270.5 L256.3,269.9 L256.9,269.0 L257.6,268.7 L258.2,268.1 L258.8,267.2 L259.4,266.2 L260.0,265.6 L260.6,265.1 L261.2,264.6 L261.8,264.0 L262.4,263.0 L263.0,262.7 L263.7,261.9 L264.3,261.0 L265.0,260.3 L265.7,259.7 L266.3,259.1 L267.0,258.2 L267.7,257.7 L268.4,256.8 L269.1,256.0 L269.8,255.6 L270.6,255.0 L271.3,253.9 L272.0,253.5 L272.7,252.9 L273.4,252.7 L274.1,252.1 L274.8,251.0 L275.5,250.9 L276.3,250.2 L277.0,249.2 L277.7,248.8 L278.5,248.0 L279.2,248.0 L280.0,247.3 L280.8,247.0 L281.5,246.4 L282.3,245.9 L283.1,245.4 L283.9,244.9 L284.7,244.0 L285.5,244.0 L286.3,243.1 L287.1,242.9 L288.0,243.0 L288.8,242.0 L289.6,241.7 L290.5,241.4 L291.4,241.7 L292.3,240.9 L293.1,240.5 L294.0,240.9 L294.9,240.1 L295.8,240.5 L296.7,240.1 L297.6,240.1 L298.6,240.0 L299.5,239.5 L300.5,239.5 L301.4,238.8 L302.4,239.2 L303.4,238.9 L304.4,239.0 L305.3,238.4 L306.3,238.8 L307.3,238.8 L308.3,238.1 L309.2,238.2 L310.2,238.3 L311.2,238.4 L312.2,237.9 L313.1,237.8 L314.1,237.8 L315.1,238.0 L316.1,238.0 L317.0,237.7 L318.0,237.6 L319.0,237.6 L319.9,237.5 L320.9,237.5 L321.9,237.2 L322.8,237.5 L323.8,237.9 L324.7,237.4 L325.7,237.7 L326.6,237.2 L327.5,237.6 L328.4,237.7 L329.4,237.6 L330.3,237.5 L331.2,237.5 L332.1,237.6 L333.1,237.8 L334.0,237.2 L334.9,237.2 L335.8,237.7 L336.8,237.9 L337.7,237.5 L338.6,237.5 L339.5,237.7 L340.5,237.3 L341.4,237.4 L342.4,237.3 L343.3,237.5 L344.3,237.3 L345.3,237.2 L346.2,237.4 L347.2,237.5 L348.2,237.0 L349.1,237.2 L350.1,236.9 L351.0,237.2 L352.0,237.0 L352.9,236.7 L353.8,236.6 L354.8,236.5 L355.7,236.7 L356.6,236.6 L357.5,236.4 L358.5,236.5 L359.4,236.4 L360.3,236.6 L361.3,236.2 L362.2,236.7 L363.1,236.3 L364.1,236.4 L365.0,236.3 L366.0,236.5 L366.9,236.5 L367.9,236.3 L368.8,236.2 L369.8,236.4 L370.8,236.5 L371.7,236.2 L372.7,236.4 L373.7,236.5 L374.6,236.3 L375.6,236.1 L376.5,236.1 L377.5,236.4 L378.4,236.4 L379.3,236.6 L380.3,236.5 L381.2,236.2 L382.1,236.2 L383.0,236.2 L383.9,236.2 L384.9,236.5 L385.8,236.7 L386.7,236.7 L387.6,236.3 L388.6,236.7 L389.5,236.4 L390.4,236.5 L391.3,236.7 L392.2,236.3 L393.2,236.3 L394.1,236.8 L395.0,236.5 L395.9,236.5 L396.9,236.7 L397.8,236.7 L398.7,236.3 L399.6,236.5 L400.6,236.6 L401.5,236.6 L402.4,236.4 L403.3,236.6 L404.3,236.9 L405.2,236.5 L406.1,236.6 L407.0,236.4 L408.0,236.4 L408.9,236.7 L409.8,236.3 L410.7,236.8 L411.7,236.8 L412.6,236.4 L413.5,236.9 L414.4,236.5 L415.4,236.8 L416.3,236.8 L417.2,236.6 L418.1,236.8 L419.0,236.8 L420.0,236.9 L420.9,236.6 L421.8,236.9 L422.7,237.1 L423.7,236.9 L424.6,236.9 L425.5,236.6 L426.4,236.9 L427.3,236.8 L428.3,237.1 L429.2,237.1 L430.1,237.0 L431.0,236.8 L431.9,237.1 L432.9,237.1 L433.8,236.9 L434.7,237.3 L435.6,237.2 L436.5,236.9 L437.5,237.4 L438.4,237.0 L439.3,237.1 L440.2,237.4 L441.2,237.3 L442.1,237.3 L443.0,237.4 L443.9,237.3 L444.8,237.3 L445.8,237.2 L446.7,237.2 L447.6,237.6 L448.5,237.7 L449.4,237.6 L450.4,237.8 L451.3,237.6 L452.2,237.6 L453.1,237.7 L454.0,238.0 L455.0,237.6 L455.9,237.9 L456.8,237.8 L457.7,238.2 L458.7,238.0 L459.6,238.0 L460.5,238.1 L461.4,238.2 L462.3,238.4 L463.3,238.2 L464.2,238.6 L465.1,238.2 L466.0,238.3 L467.0,238.3 L467.9,238.3 L468.8,238.8 L469.8,238.8 L470.7,238.5 L471.6,238.6 L472.5,238.8 L473.5,239.1 L474.4,239.2 L475.3,239.2 L476.3,239.1 L477.2,238.9 L478.1,239.1 L479.1,239.1 L480.0,239.3 L480.9,239.3 L481.9,239.4 L482.8,239.4 L483.7,239.5 L484.7,239.5 L485.6,239.5 L486.6,239.6 L487.5,239.6 L488.4,239.6 L489.3,239.7 L490.3,239.7 L491.2,239.8 L492.1,239.8 L493.0,239.9 L493.9,239.9 L494.9,240.0 L495.8,240.0 L496.7,240.1 L497.6,240.1 L498.6,240.2 L499.5,240.2 L500.4,240.3 L501.3,240.3 L502.2,240.4 L503.2,240.4 L504.1,240.5 L505.0,240.5 L505.9,240.5 L506.9,240.6 L507.8,240.6 L508.7,240.7 L509.6,240.7 L510.6,240.8 L511.5,240.8 L512.4,240.9 L513.3,240.9 L514.3,241.0 L515.2,241.0 L516.1,241.1 L517.0,241.1 L518.0,241.2 L518.9,241.2 L519.8,241.3 L520.7,241.4 L521.7,241.4 L522.6,241.5 L523.5,241.6 L524.4,241.6 L525.4,241.7 L526.3,241.8 L527.2,241.9 L528.1,242.0 L529.0,242.1 L530.0,242.1 L530.9,242.2 L531.8,242.3 L532.7,242.4 L533.7,242.5 L534.6,242.6 L535.5,242.7 L536.4,242.8 L537.3,242.9 L538.3,242.9 L539.2,243.0 L540.1,243.1 L541.0,243.2 L541.9,243.3 L542.9,243.3 L543.8,243.4 L544.7,243.5 L545.6,243.6 L546.5,243.6 L547.5,243.7 L548.4,243.8 L549.3,243.8 L550.2,243.9 L551.2,244.0 L552.1,244.1 L553.0,244.1 L553.9,244.2 L554.8,244.3 L555.8,244.4 L556.7,244.4 L557.6,244.5 L558.5,244.6 L559.4,244.6 L560.4,244.7 L561.3,244.8 L562.2,244.9 L563.1,244.9 L564.0,245.0 L565.0,245.1 L565.9,245.2 L566.8,245.2 L567.7,245.3 L568.7,245.4 L569.6,245.4 L570.5,245.5 L571.4,245.6 L572.3,245.7 L573.3,245.7 L574.2,245.8 L575.1,245.9 L576.0,246.0 L577.0,246.1 L577.9,246.1 L578.8,246.2 L579.8,246.3 L580.7,246.3 L581.6,246.4 L582.6,246.5 L583.5,246.6 L584.4,246.7 L585.4,246.7 L586.3,246.8 L587.2,246.9 L588.1,247.0 L589.1,247.1 L590.0,247.2 L591.0,247.3 L591.9,247.5 L592.9,247.6 L593.9,247.8 L594.8,248.0 L595.8,248.2 L596.9,248.6 L598.0,249.0 L599.0,249.0 L599.9,249.1 L600.9,249.1 L601.9,249.1 L602.9,249.0 L603.8,249.0 L604.8,249.0 L605.8,249.0 L606.8,249.0 L607.7,249.0 L608.7,249.0 L609.6,249.0 L610.5,249.1 L611.4,249.1 L612.3,249.2 L613.2,249.3 L614.1,249.3 L615.0,249.4 L616.0,249.5 L616.9,249.5 L617.8,249.6 L618.7,249.7 L619.6,249.8 L620.5,249.9 L621.4,249.9 L622.3,250.0 L623.2,250.1 L624.1,250.2 L625.0,250.3 L626.0,250.4 L626.9,250.5 L627.9,250.6 L628.8,250.8 L629.8,250.9 L630.8,251.0 L631.7,251.2 L632.7,251.3 L633.6,251.4 L634.6,251.6 L635.5,251.7 L636.5,251.8 L637.4,251.9 L638.3,252.0 L639.2,252.1 L640.1,252.2 L641.0,252.3 L641.9,252.4 L642.8,252.5 L643.7,252.6 L644.6,252.7 L645.5,252.7 L646.4,252.8 L647.2,252.9 L648.1,253.0 L649.0,253.1 L649.9,253.2 L650.8,253.3 L651.7,253.4 L652.6,253.5 L653.5,253.5 L654.4,253.6 L655.3,253.7 L656.2,253.8 L657.1,253.9 L658.0,254.0 L658.9,254.1 L659.8,254.2 L660.7,254.3 L661.6,254.4 L662.5,254.5 L663.5,254.6 L664.4,254.7 L665.3,254.8 L666.2,254.9 L667.1,255.0 L668.0,255.0 L668.9,255.1 L669.8,255.2 L670.7,255.3 L671.6,255.4 L672.5,255.5 L673.5,255.6 L674.4,255.7 L675.3,255.8 L676.2,255.9 L677.1,256.0 L678.0,256.1" fill="none" stroke="#111111" stroke-width="1.7" stroke-linejoin="round" stroke-linecap="round"/>
<path d="M62.5,285.0C62.8,283.0 63.2,281.0 63.5,279.0C63.7,277.5 63.5,276.0 64.0,274.6C65.0,271.8 66.5,269.1 68.0,266.5C69.2,264.3 70.6,262.2 72.1,260.1C73.3,258.4 74.6,256.6 76.1,255.2C77.0,254.4 78.2,253.3 79.3,253.3C80.4,253.3 81.5,254.5 82.5,255.2C83.6,256.0 84.7,257.7 85.8,257.7C86.9,257.7 88.4,256.4 89.0,255.2C90.5,252.3 90.9,248.7 92.2,245.6C93.0,243.6 94.1,241.7 95.4,240.0C96.8,238.2 98.4,236.5 100.2,235.1C101.6,234.0 103.4,233.0 105.1,232.7C107.7,232.3 110.5,232.6 113.1,233.0C115.8,233.4 118.5,235.0 121.2,235.1C123.3,235.2 125.4,234.0 127.6,233.5C129.7,233.1 131.9,232.6 134.0,232.4C136.0,232.2 138.0,232.4 140.0,232.3C141.8,232.2 143.7,231.9 145.5,232.0C148.4,232.1 151.4,232.3 154.3,233.0C156.7,233.6 158.9,235.0 161.3,235.7C164.1,236.6 167.1,237.3 170.0,237.8C175.8,238.7 181.7,239.4 187.6,239.9C193.4,240.4 199.3,240.8 205.1,240.9C209.2,241.0 213.3,241.0 217.3,240.4C218.9,240.2 220.2,238.3 221.7,238.3C223.2,238.3 224.5,240.2 226.1,240.4C228.3,240.8 230.9,239.6 233.1,240.1C235.0,240.5 237.1,241.6 238.4,243.0C240.1,244.9 240.7,247.7 241.9,250.0C242.7,251.5 243.8,254.8 244.5,254.4C245.5,253.9 246.0,249.6 247.1,247.4C248.0,245.7 249.1,243.9 250.6,242.7C251.8,241.8 253.5,241.6 255.0,241.2C256.3,240.9 257.7,240.6 259.0,240.5C263.1,240.1 267.2,239.7 271.3,239.6C277.1,239.4 283.0,239.5 288.8,239.6C294.6,239.8 300.5,240.2 306.3,240.5C309.5,240.7 312.8,240.8 316.0,241.2C318.5,241.5 321.1,241.8 323.5,242.6C324.8,243.1 325.9,244.1 327.0,245.0C328.3,246.1 329.3,247.6 330.7,248.6C332.3,249.7 334.2,250.5 336.0,251.2C337.9,251.9 340.0,252.9 341.9,252.7C344.3,252.5 346.7,251.0 349.0,250.1C350.4,249.6 351.7,249.0 353.0,248.3C354.1,247.8 355.1,246.6 356.2,246.5C357.1,246.4 358.2,247.0 359.0,247.5C360.2,248.2 361.0,249.7 362.3,250.1C363.6,250.5 365.2,250.2 366.6,249.8C367.8,249.5 368.8,248.6 370.0,248.1C371.2,247.6 372.5,246.9 373.8,246.8C375.4,246.6 377.4,246.4 378.6,247.2L383.5,253.3L390.7,269.0L395.5,278.6L399.2,283.5L402.3,281.0L405.7,271.9L410.0,271.9L417.3,277.4L423.3,275.7L426.9,280.6L433.0,283.5L439.0,279.1L443.8,276.2L448.6,270.2L452.0,273.1L454.6,275.1L456.7,287.2L458.7,305.3L460.7,318.3L463.1,323.3L466.1,323.7C467.6,322.8 468.8,320.8 470.1,319.3C471.4,317.8 472.5,315.9 474.1,314.9C475.5,314.0 477.5,314.0 479.2,313.7C480.2,313.6 481.4,314.1 482.2,313.7C483.4,313.2 484.3,311.9 485.2,310.9C486.9,309.1 488.3,306.8 490.2,305.3C491.3,304.4 492.8,303.9 494.2,303.6C495.8,303.2 497.6,303.3 499.3,303.2C501.0,303.1 502.8,303.4 504.3,302.8C506.1,302.1 507.8,300.5 509.3,299.2C511.5,297.3 513.6,295.4 515.4,293.2C517.7,290.4 519.2,287.0 521.4,284.1C522.5,282.6 523.9,281.1 525.4,280.1C526.5,279.4 528.2,279.7 529.4,279.1C530.9,278.4 532.0,276.3 533.4,276.1C534.7,275.9 536.0,277.8 537.5,278.1C540.1,278.7 542.8,278.5 545.5,278.7C548.2,278.9 550.8,279.1 553.5,279.1C554.9,279.1 556.4,279.2 557.6,278.7C558.8,278.2 559.4,276.7 560.6,276.1C561.9,275.5 563.5,275.3 565.0,275.1C568.8,274.6 572.7,274.2 576.5,273.9C583.7,273.3 590.8,272.7 598.0,272.2C604.4,271.8 611.1,270.8 617.3,271.1C618.5,271.2 619.5,273.6 620.4,273.3C621.9,272.9 623.3,270.5 624.7,269.0C626.2,267.4 627.3,264.9 629.0,264.0C630.1,263.4 632.1,265.1 633.3,264.7C634.9,264.1 636.0,262.0 637.5,261.0C638.5,260.4 639.8,259.5 640.8,259.8C642.4,260.3 643.6,262.4 645.1,263.6C646.8,265.1 648.7,266.4 650.4,267.9C651.9,269.2 653.0,271.3 654.7,271.8C657.6,272.6 661.2,271.9 664.4,271.8C667.3,271.7 670.1,271.3 673.0,271.1C674.8,271.0 676.7,270.8 678.5,270.7" fill="none" stroke="#ff3a1a" stroke-width="1.7" stroke-linejoin="round" stroke-linecap="round"/>
<path d="M62.5,246.1 L63.2,244.2 L64.1,244.5 L65.1,243.1 L66.1,243.5 L67.2,243.0 L68.2,242.2 L69.2,243.0 L70.2,242.1 L71.1,242.8 L72.1,241.9 L73.2,241.6 L74.2,241.8 L75.2,242.0 L76.1,240.1 L76.8,239.7 L77.5,239.8 L78.2,239.7 L78.8,238.3 L79.5,237.2 L80.1,237.6 L80.8,235.2 L81.4,235.9 L82.0,234.1 L82.7,233.1 L83.4,232.4 L84.1,232.1 L84.9,232.4 L85.6,230.6 L86.4,230.8 L87.3,230.3 L88.1,229.4 L89.0,229.3 L89.9,228.1 L90.8,227.8 L91.7,227.8 L92.6,228.4 L93.5,227.8 L94.5,227.4 L95.4,227.8 L96.4,227.4 L97.3,227.0 L98.3,227.9 L99.3,227.7 L100.2,226.8 L101.2,227.4 L102.2,227.3 L103.2,227.9 L104.1,227.6 L105.1,226.7 L106.0,227.9 L106.9,226.3 L107.8,226.7 L108.8,227.3 L109.7,226.1 L110.6,226.6 L111.5,225.8 L112.4,226.9 L113.3,227.0 L114.3,226.6 L115.2,227.1 L116.1,226.1 L117.0,226.8 L117.9,226.6 L118.9,226.5 L119.8,226.3 L120.7,227.0 L121.6,227.1 L122.6,226.3 L123.5,226.6 L124.4,225.5 L125.3,226.7 L126.2,226.5 L127.2,227.2 L128.1,226.9 L129.0,225.9 L129.9,226.1 L130.8,226.6 L131.7,225.4 L132.7,226.2 L133.6,225.7 L134.5,225.6 L135.4,225.5 L136.3,226.7 L137.2,225.6 L138.2,225.8 L139.1,226.0 L140.0,226.9 L141.0,225.4 L141.9,226.0 L142.9,226.2 L143.8,226.7 L144.8,226.5 L145.8,226.5 L146.7,225.4 L147.7,225.6 L148.7,225.4 L149.6,226.3 L150.6,226.1 L151.5,225.1 L152.5,225.1 L153.4,225.2 L154.3,225.2 L155.3,225.4 L156.2,225.6 L157.1,225.2 L158.0,224.9 L158.9,225.4 L159.9,225.3 L160.8,225.5 L161.7,226.0 L162.6,225.7 L163.6,225.5 L164.5,225.6 L165.4,225.7 L166.3,225.0 L167.2,226.0 L168.2,225.8 L169.1,225.9 L170.0,225.8 L170.9,225.4 L171.9,225.4 L172.8,225.0 L173.7,225.6 L174.6,224.9 L175.6,224.9 L176.5,225.0 L177.4,224.9 L178.3,225.1 L179.3,224.7 L180.2,224.7 L181.1,224.8 L182.0,224.7 L183.0,225.0 L183.9,224.6 L184.8,225.5 L185.7,225.2 L186.7,224.6 L187.6,224.7 L188.5,224.8 L189.4,224.8 L190.4,224.6 L191.3,225.3 L192.2,225.5 L193.1,224.9 L194.0,224.9 L195.0,224.5 L195.9,224.5 L196.8,224.8 L197.7,224.7 L198.7,225.3 L199.6,224.6 L200.5,224.4 L201.4,225.5 L202.3,225.0 L203.3,224.6 L204.2,225.0 L205.1,224.5 L206.0,225.0 L206.9,225.5 L207.9,225.4 L208.8,225.2 L209.7,224.8 L210.6,224.9 L211.5,224.7 L212.5,225.4 L213.4,225.1 L214.3,225.4 L215.2,224.9 L216.2,224.8 L217.1,225.5 L218.0,225.7 L218.9,225.5 L219.8,225.5 L220.8,225.5 L221.7,225.5 L222.6,224.9 L223.5,225.2 L224.4,225.1 L225.4,224.7 L226.3,224.7 L227.2,225.0 L228.1,225.0 L229.0,225.5 L230.0,225.8 L230.9,225.3 L231.8,225.9 L232.7,225.9 L233.7,225.9 L234.6,225.3 L235.5,225.1 L236.4,225.2 L237.3,225.1 L238.3,225.2 L239.2,225.6 L240.1,225.9 L241.0,225.9 L242.0,225.5 L242.9,225.7 L243.8,225.8 L244.8,225.0 L245.7,225.6 L246.6,225.9 L247.6,225.7 L248.5,225.7 L249.4,225.4 L250.4,225.0 L251.3,225.7 L252.2,225.2 L253.2,225.7 L254.1,225.8 L255.0,225.2 L256.0,225.2 L256.9,225.8 L257.8,225.5 L258.8,224.9 L259.7,224.9 L260.6,224.9 L261.6,225.7 L262.5,225.6 L263.4,224.9 L264.3,225.7 L265.3,225.9 L266.2,225.6 L267.1,225.3 L268.0,225.5 L268.9,225.1 L269.9,225.0 L270.8,226.1 L271.7,225.8 L272.6,225.7 L273.6,226.2 L274.5,225.7 L275.4,226.3 L276.3,226.3 L277.2,225.6 L278.2,225.7 L279.1,225.8 L280.0,225.8 L280.9,226.2 L281.9,225.9 L282.8,226.2 L283.8,225.9 L284.7,226.8 L285.6,226.3 L286.6,226.4 L287.5,226.6 L288.5,227.0 L289.4,226.6 L290.3,227.2 L291.3,226.8 L292.2,226.9 L293.2,226.9 L294.1,226.5 L295.1,227.0 L296.1,226.9 L297.1,226.9 L298.1,228.0 L299.1,227.4 L300.1,227.8 L301.1,228.1 L302.1,227.9 L303.1,227.4 L304.1,227.4 L305.1,227.2 L306.1,227.2 L307.1,226.3 L308.1,226.8 L309.0,226.5 L309.9,226.6 L310.8,227.3 L311.6,227.3 L312.5,227.6 L313.4,228.1 L314.3,228.5 L315.1,228.3 L316.0,228.9 L316.9,229.2 L317.8,229.7 L318.7,230.4 L319.5,230.7 L320.3,231.4 L321.0,232.2 L321.7,233.1 L322.4,234.1 L323.0,235.1 L323.6,235.9 L324.2,236.5 L324.7,236.6 L325.2,236.3 L325.6,235.6 L326.0,234.7 L326.4,233.6 L326.7,232.5 L327.1,231.4 L327.6,230.4 L328.2,229.6 L328.9,229.1 L329.8,228.7 L330.7,228.4 L331.7,228.3 L332.6,228.4 L333.5,228.6 L334.4,228.8 L335.3,229.2 L336.2,229.6 L337.1,230.0 L337.9,230.4 L338.8,230.9 L339.6,231.4 L340.4,232.0 L341.1,232.7 L341.8,233.5 L342.6,234.3 L343.2,234.9 L343.9,235.3 L344.5,235.4 L345.1,235.1 L345.7,234.4 L346.2,233.4 L346.6,232.4 L347.2,231.3 L347.7,230.4 L348.4,229.6 L349.1,229.0 L349.9,228.6 L350.8,228.2 L351.7,227.9 L352.7,227.6 L353.6,227.4 L354.6,227.3 L355.6,227.1 L356.6,227.1 L357.6,227.1 L358.6,227.1 L359.6,227.2 L360.6,227.4 L361.6,227.6 L362.6,228.0 L363.5,228.5 L364.4,229.0 L365.3,229.6 L366.0,230.2 L366.7,231.0 L367.3,231.8 L367.9,232.6 L368.5,233.4 L369.1,234.1 L369.8,234.6 L370.5,234.9 L371.3,234.8 L372.1,234.4 L373.0,233.7 L373.9,233.1 L374.9,232.5 L375.8,232.3 L376.7,232.3 L377.5,232.4 L378.4,232.6 L379.3,232.7 L380.2,232.9 L381.0,233.2 L381.9,233.5 L382.8,233.7 L383.7,234.0 L384.6,234.3 L385.4,234.6 L386.3,234.9 L387.2,235.2 L388.1,235.5 L389.0,235.8 L389.9,236.1 L390.7,236.5 L391.6,236.8 L392.5,237.2 L393.3,237.6 L394.2,238.0 L395.0,238.4 L395.8,238.9 L396.6,239.5 L397.4,240.3 L398.1,241.0 L398.9,241.7 L399.6,242.3 L400.3,242.8 L401.0,243.1 L401.7,243.1 L402.4,242.8 L403.0,242.2 L403.6,241.4 L404.1,240.4 L404.7,239.4 L405.2,238.3 L405.9,237.4 L406.5,236.6 L407.3,236.1 L408.1,235.8 L409.1,235.6 L410.0,235.4 L411.0,235.4 L412.1,235.5 L413.1,235.6 L414.2,235.7 L415.2,235.9 L416.1,236.1 L417.0,236.4 L417.9,236.9 L418.8,237.4 L419.7,238.0 L420.5,238.7 L421.3,239.3 L422.0,239.9 L422.8,240.5 L423.5,241.0 L424.2,241.7 L424.9,242.3 L425.6,242.9 L426.2,243.5 L426.9,244.1 L427.6,244.8 L428.3,245.4 L429.0,246.2 L429.8,247.0 L430.5,248.0 L431.3,249.0 L432.0,249.9 L432.7,250.7 L433.4,251.3 L434.0,251.5 L434.5,251.5 L434.9,251.2 L435.3,250.6 L435.6,249.9 L435.9,249.1 L436.2,248.2 L436.5,247.0 L436.7,246.8 L437.0,245.2 L437.3,244.5 L437.6,243.5 L437.9,241.3 L438.3,241.0 L438.8,240.9 L439.4,240.1 L440.2,238.5 L441.2,238.2 L442.1,238.6 L443.2,237.8 L444.1,237.9 L445.1,237.4 L446.1,238.2 L447.1,238.2 L448.1,238.1 L449.1,236.6 L450.1,237.6 L451.1,237.5 L452.0,236.7 L452.9,238.5 L453.8,239.1 L454.6,238.3 L455.5,240.1 L456.4,239.6 L457.3,240.2 L458.1,241.6 L459.0,241.8 L459.9,241.1 L460.7,242.2 L461.6,242.8 L462.4,243.0 L463.2,243.3 L464.0,244.0 L464.8,245.2 L465.7,244.5 L466.5,246.0 L467.3,246.3 L468.1,246.1 L468.8,247.2 L469.6,248.3 L470.4,248.6 L471.3,248.5 L472.1,250.8 L472.9,251.2 L473.5,252.3 L473.9,251.7 L474.3,252.9 L474.5,253.6 L474.8,255.9 L475.1,256.0 L475.4,256.6 L475.7,257.9 L476.1,259.2 L476.6,259.0 L477.3,257.2 L478.0,256.7 L478.8,255.9 L479.6,255.3 L480.5,254.8 L481.4,254.4 L482.3,254.2 L483.3,254.2 L484.4,254.3 L485.4,254.5 L486.5,254.8 L487.5,255.0 L488.5,255.2 L489.5,255.4 L490.4,255.6 L491.4,255.8 L492.4,256.0 L493.4,256.2 L494.3,256.4 L495.3,256.6 L496.3,256.8 L497.3,257.0 L498.2,257.1 L499.2,257.3 L500.2,257.5 L501.1,257.6 L502.1,257.8 L503.1,257.9 L504.0,258.1 L505.0,258.2 L506.0,258.3 L507.0,258.5 L507.9,258.6 L508.9,258.7 L509.9,258.9 L510.9,259.0 L511.8,259.1 L512.8,259.3 L513.8,259.4 L514.8,259.5 L515.8,259.7 L516.7,259.8 L517.7,259.9 L518.7,260.0 L519.7,260.1 L520.7,260.3 L521.6,260.4 L522.6,260.6 L523.7,260.8 L524.7,261.0 L525.8,261.3 L526.8,261.6 L527.8,262.0 L528.7,262.5 L529.6,263.2 L530.4,263.8 L531.3,264.1 L532.1,264.0 L533.0,263.6 L533.9,263.1 L534.8,262.9 L535.7,263.0 L536.6,263.4 L537.4,263.7 L538.3,263.8 L539.2,263.5 L540.0,262.9 L540.9,262.4 L541.8,262.0 L542.8,261.9 L543.8,261.8 L544.8,261.7 L545.8,261.8 L546.8,261.8 L547.8,261.9 L548.8,262.0 L549.7,262.1 L550.6,262.3 L551.4,262.5 L552.3,262.8 L553.2,263.0 L554.1,263.3 L554.9,263.6 L555.8,263.8 L556.7,264.0 L557.6,264.2 L558.5,264.4 L559.3,264.7 L560.2,265.2 L561.2,265.8 L562.1,266.4 L562.9,267.1 L563.6,267.9 L564.1,268.6 L564.5,269.4 L565.0,270.2 L565.3,271.1 L565.7,271.9 L566.0,272.8 L566.3,273.6 L566.6,274.5 L566.8,275.4 L567.0,276.3 L567.2,277.2 L567.4,278.2 L567.6,279.1 L567.7,280.0 L567.8,281.0 L568.0,281.9 L568.1,282.8 L568.2,283.8 L568.3,284.7 L568.5,285.7 L568.6,286.6 L568.7,287.5 L568.8,288.5 L569.0,289.4 L569.2,290.4 L569.3,291.4 L569.4,292.4 L569.6,293.4 L569.7,294.4 L569.9,295.4 L570.0,296.4 L570.2,297.4 L570.4,298.3 L570.6,299.1 L570.8,299.9 L571.1,300.6 L571.6,300.6 L572.5,299.8 L573.3,299.0 L574.1,298.4 L574.9,297.9 L575.7,297.3 L576.5,296.9 L577.4,296.5 L578.3,296.1 L579.2,295.8 L580.1,295.5 L581.0,295.2 L582.0,295.0 L582.9,294.8 L584.0,294.7 L585.2,294.8 L586.3,295.0 L587.2,295.4 L587.9,296.1 L588.5,297.0 L589.0,298.0 L589.4,299.0 L589.8,299.9 L590.1,300.9 L590.4,302.0 L590.8,303.0 L591.1,304.0 L591.4,305.0 L591.8,305.8 L592.2,306.5 L592.6,307.0 L593.3,307.0 L594.2,306.4 L595.1,305.4 L595.8,304.4 L596.2,303.6 L596.6,302.8 L597.0,302.0 L597.3,301.1 L597.7,300.2 L598.0,299.4 L598.3,298.5 L598.5,297.6 L598.8,296.7 L599.0,295.8 L599.2,294.9 L599.4,294.0 L599.6,293.1 L599.8,292.2 L599.9,291.2 L600.1,290.3 L600.2,289.4 L600.3,288.5 L600.5,287.5 L600.6,286.6 L600.7,285.7 L600.9,284.7 L601.0,283.8 L601.2,282.9 L601.4,282.0 L601.5,281.1 L601.6,280.2 L601.8,279.3 L601.9,278.4 L602.1,277.5 L602.2,276.6 L602.4,275.7 L602.6,274.8 L602.8,273.9 L603.0,273.0 L603.3,272.2 L603.7,271.2 L604.3,270.3 L605.0,269.4 L605.7,268.6 L606.5,267.9 L607.6,267.9 L608.7,267.9 L609.4,267.2 L610.0,266.3 L610.6,265.4 L611.2,264.4 L611.9,263.6 L612.6,262.9 L613.3,262.1 L614.1,261.4 L614.9,260.8 L615.7,260.1 L616.5,259.5 L617.3,258.9 L618.3,258.3 L619.3,257.9 L620.3,257.5 L621.4,257.2 L622.3,257.0 L623.2,256.7 L624.2,256.5 L625.1,256.4 L626.0,256.2 L627.0,256.1 L627.9,256.1 L628.8,256.1 L629.8,256.2 L630.7,256.3 L631.6,256.5 L632.5,256.7 L633.4,256.9 L634.3,257.2 L635.3,257.6 L636.3,258.0 L637.2,258.5 L638.1,259.1 L639.0,259.7 L639.7,260.4 L640.3,261.2 L640.9,262.0 L641.4,262.9 L641.8,263.9 L642.2,264.8 L642.6,265.8 L642.9,266.8 L643.2,267.7 L643.5,268.6 L643.7,269.5 L643.9,270.4 L644.2,271.4 L644.4,272.3 L644.6,273.2 L644.8,274.1 L645.0,275.1 L645.2,276.0 L645.4,276.9 L645.6,277.9 L645.9,278.8 L646.1,279.7 L646.3,280.6 L646.6,281.5 L646.8,282.4 L647.1,283.3 L647.4,284.2 L647.6,285.1 L647.9,286.0 L648.2,286.9 L648.5,287.8 L648.8,288.7 L649.1,289.6 L649.4,290.5 L649.8,291.5 L650.1,292.4 L650.6,293.4 L651.0,294.3 L651.5,295.2 L652.0,296.1 L652.6,296.9 L653.3,297.6 L654.1,298.2 L655.0,298.8 L656.0,299.3 L656.9,299.7 L657.8,300.0 L658.8,300.1 L659.7,300.3 L660.7,300.6 L661.6,300.9 L662.6,301.3 L663.5,301.7 L664.4,302.2 L665.2,302.7 L666.1,303.3 L666.8,304.0 L667.5,304.7 L668.1,305.5 L668.5,306.3 L668.8,307.1 L669.1,308.0 L669.3,308.9 L669.5,309.8 L669.7,310.7 L670.0,311.6 L670.3,312.5 L670.6,313.4 L671.0,314.2 L671.4,315.0 L671.9,315.8 L672.7,316.7 L673.7,317.5 L674.7,317.9 L675.9,317.6 L677.0,316.7 L677.7,315.8 L678.3,314.9 L678.9,313.9" fill="none" stroke="#8a0c98" stroke-width="1.7" stroke-linejoin="round" stroke-linecap="round"/>
<rect x="74.9" y="24.1" width="18.5" height="2.8" fill="#800080"/>
<rect x="98.9" y="24.1" width="18.6" height="2.8" fill="#ff8c00"/>
<rect x="137.1" y="24.1" width="26.8" height="2.8" fill="#cc0000"/>
<rect x="91.5" y="31.1" width="7.9" height="2.8" fill="#008000"/>
<rect x="116.4" y="31.1" width="21.6" height="2.8" fill="#000080"/>
<rect x="178.0" y="27.700000000000003" width="434.5" height="2.8" fill="#000000"/>
<rect x="62.0" y="3.8" width="616.6" height="326.0" fill="none" stroke="#555555" stroke-width="1.6"/>
<path d="M62.0,11.04h6M678.6,11.04h-6M62.0,18.29h6M678.6,18.29h-6M62.0,25.53h6M678.6,25.53h-6M62.0,32.78h6M678.6,32.78h-6M62.0,40.02h12M678.6,40.02h-12M62.0,47.27h6M678.6,47.27h-6M62.0,54.51h6M678.6,54.51h-6M62.0,61.76h6M678.6,61.76h-6M62.0,69.00h6M678.6,69.00h-6M62.0,76.24h12M678.6,76.24h-12M62.0,83.49h6M678.6,83.49h-6M62.0,90.73h6M678.6,90.73h-6M62.0,97.98h6M678.6,97.98h-6M62.0,105.22h6M678.6,105.22h-6M62.0,112.47h12M678.6,112.47h-12M62.0,119.71h6M678.6,119.71h-6M62.0,126.96h6M678.6,126.96h-6M62.0,134.20h6M678.6,134.20h-6M62.0,141.44h6M678.6,141.44h-6M62.0,148.69h12M678.6,148.69h-12M62.0,155.93h6M678.6,155.93h-6M62.0,163.18h6M678.6,163.18h-6M62.0,170.42h6M678.6,170.42h-6M62.0,177.67h6M678.6,177.67h-6M62.0,184.91h12M678.6,184.91h-12M62.0,192.16h6M678.6,192.16h-6M62.0,199.40h6M678.6,199.40h-6M62.0,206.64h6M678.6,206.64h-6M62.0,213.89h6M678.6,213.89h-6M62.0,221.13h12M678.6,221.13h-12M62.0,228.38h6M678.6,228.38h-6M62.0,235.62h6M678.6,235.62h-6M62.0,242.87h6M678.6,242.87h-6M62.0,250.11h6M678.6,250.11h-6M62.0,257.36h12M678.6,257.36h-12M62.0,264.60h6M678.6,264.60h-6M62.0,271.84h6M678.6,271.84h-6M62.0,279.09h6M678.6,279.09h-6M62.0,286.33h6M678.6,286.33h-6M62.0,293.58h12M678.6,293.58h-12M62.0,300.82h6M678.6,300.82h-6M62.0,308.07h6M678.6,308.07h-6M62.0,315.31h6M678.6,315.31h-6M62.0,322.56h6M678.6,322.56h-6M78.84,329.8v-3M78.84,3.8v3M95.50,329.8v-3M95.50,3.8v3M112.16,329.8v-3M112.16,3.8v3M128.82,329.8v-3M128.82,3.8v3M145.48,329.8v-3M145.48,3.8v3M162.14,329.8v-3M162.14,3.8v3M178.80,329.8v-6.5M178.80,3.8v6.5M195.46,329.8v-3M195.46,3.8v3M212.12,329.8v-3M212.12,3.8v3M228.78,329.8v-3M228.78,3.8v3M245.44,329.8v-3M245.44,3.8v3M262.10,329.8v-3M262.10,3.8v3M278.76,329.8v-3M278.76,3.8v3M295.42,329.8v-3M295.42,3.8v3M312.08,329.8v-3M312.08,3.8v3M328.74,329.8v-3M328.74,3.8v3M345.40,329.8v-6.5M345.40,3.8v6.5M362.06,329.8v-3M362.06,3.8v3M378.72,329.8v-3M378.72,3.8v3M395.38,329.8v-3M395.38,3.8v3M412.04,329.8v-3M412.04,3.8v3M428.70,329.8v-3M428.70,3.8v3M445.36,329.8v-3M445.36,3.8v3M462.02,329.8v-3M462.02,3.8v3M478.68,329.8v-3M478.68,3.8v3M495.34,329.8v-3M495.34,3.8v3M512.00,329.8v-6.5M512.00,3.8v6.5M528.66,329.8v-3M528.66,3.8v3M545.32,329.8v-3M545.32,3.8v3M561.98,329.8v-3M561.98,3.8v3M578.64,329.8v-3M578.64,3.8v3M595.30,329.8v-3M595.30,3.8v3M611.96,329.8v-3M611.96,3.8v3M628.62,329.8v-3M628.62,3.8v3M645.28,329.8v-3M645.28,3.8v3M661.94,329.8v-3M661.94,3.8v3" stroke="#1c1c1c" stroke-width="1.3" fill="none"/>
<line x1="62.05" y1="148.5" x2="678.6" y2="148.5" stroke="#1a58fa" stroke-opacity="0.8" stroke-width="1.3" stroke-dasharray="1.3 2.7"/>
<line x1="62.05" y1="221.2" x2="678.6" y2="221.2" stroke="#b5141e" stroke-opacity="0.7" stroke-width="1.3" stroke-dasharray="1.3 2.7"/>
<path d="M40.83,1.82 L40.83,13.00 L39.38,13.00 L39.38,4.12 Q38.48,4.82 36.77,4.92 L36.77,3.72 Q39.08,3.32 39.48,1.82 Z" fill="#111"/>
<text x="57.1" y="13.0" font-family="'Liberation Sans', sans-serif" font-size="15.7" text-anchor="end" fill="#111">.0</text>
<text x="57.1" y="45.5" font-family="'Liberation Sans', sans-serif" font-size="15.7" text-anchor="end" fill="#111">0.75</text>
<text x="57.1" y="82.0" font-family="'Liberation Sans', sans-serif" font-size="15.7" text-anchor="end" fill="#111">0.50</text>
<text x="57.1" y="117.5" font-family="'Liberation Sans', sans-serif" font-size="15.7" text-anchor="end" fill="#111">0.25</text>
<text x="57.1" y="154.3" font-family="'Liberation Sans', sans-serif" font-size="15.7" text-anchor="end" fill="#111">0</text>
<text x="57.1" y="190.2" font-family="'Liberation Sans', sans-serif" font-size="15.7" text-anchor="end" fill="#111">0.25</text>
<text x="57.1" y="226.4" font-family="'Liberation Sans', sans-serif" font-size="15.7" text-anchor="end" fill="#111">0</text>
<text x="57.1" y="262.8" font-family="'Liberation Sans', sans-serif" font-size="15.7" text-anchor="end" fill="#111">0.50</text>
<text x="57.1" y="299.0" font-family="'Liberation Sans', sans-serif" font-size="15.7" text-anchor="end" fill="#111">0.25</text>
<text x="57.1" y="329.8" font-family="'Liberation Sans', sans-serif" font-size="15.7" text-anchor="end" fill="#111">0</text>
<path d="M179.72,338.42 L179.72,349.60 L178.28,349.60 L178.28,340.72 Q177.38,341.42 175.68,341.52 L175.68,340.32 Q177.97,339.92 178.38,338.42 Z" fill="#111"/>
<text x="345.4" y="349.6" font-family="'Liberation Sans', sans-serif" font-size="15.7" text-anchor="middle" fill="#111">2</text>
<text x="512.0" y="349.6" font-family="'Liberation Sans', sans-serif" font-size="15.7" text-anchor="middle" fill="#111">3</text>
<text x="678.6" y="349.6" font-family="'Liberation Sans', sans-serif" font-size="15.7" text-anchor="middle" fill="#111">4</text>
<text x="371.9" y="366.5" font-family="'Liberation Sans', sans-serif" font-size="15.8" text-anchor="middle" fill="#111">Wavelength (µm)</text>
<text transform="translate(13.5,165.9) rotate(-90)" font-family="'Liberation Sans', sans-serif" font-size="15.75" text-anchor="middle" fill="#111">Reflectance</text>
<text x="95.0" y="21.6" font-family="'Liberation Sans', sans-serif" font-size="12.2" fill="#111">MVIC</text>
<text x="377.20000000000005" y="21.2" font-family="'Liberation Sans', sans-serif" font-size="12.2" fill="#111">LEISA</text>
<text x="495.1" y="76.0" font-family="'Liberation Sans', sans-serif" font-size="12.2" fill="#1f8c1f">Methanol</text>
<text x="195.9" y="162.0" font-family="'Liberation Sans', sans-serif" font-size="12.2" fill="#b5141e">Titan Tholin</text>
<text x="195.1" y="213.8" font-family="'Liberation Sans', sans-serif" font-size="12.2" fill="#b08a20">Ice Tholin</text>
<text x="478.1" y="235.8" font-family="'Liberation Sans', sans-serif" font-size="12.2" fill="#111">Olivine</text>
<text x="512.8000000000001" y="257.3" font-family="'Liberation Sans', sans-serif" font-size="12.2" fill="#8a0c98">Calcite</text>
<text x="262.1" y="315.3" font-family="'Liberation Sans', sans-serif" font-size="12.2" fill="#1ef42e">Pyroxene</text>
<text x="495.40000000000003" y="315.3" font-family="'Liberation Sans', sans-serif" font-size="12.2" fill="#ff3a1a">Serpentine</text>
<text x="378.2" y="104.7" font-family="'Liberation Sans', sans-serif" font-size="12" fill="#1a58fa">H<tspan font-size="8.6" dy="2.5">2</tspan><tspan dy="-2.5">O</tspan></text>
<line x1="482.5" y1="0" x2="482.5" y2="328.8" stroke="#fff" stroke-width="0.8"/>
</svg>
</body></html>
